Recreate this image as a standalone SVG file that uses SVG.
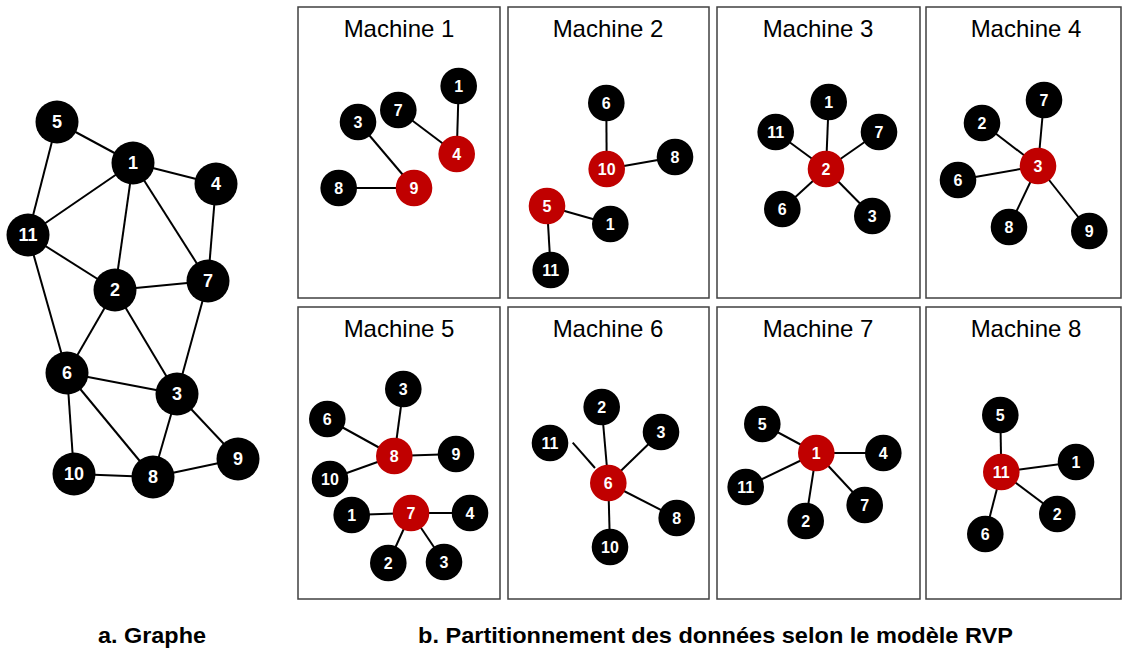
<svg xmlns="http://www.w3.org/2000/svg" width="1123" height="651" viewBox="0 0 1123 651">
<style>
.e{stroke:#000;stroke-width:2;fill:none}
.n{fill:#000}
.r{fill:#C00000}
.big{r:21.5}
.sm{r:18.3}
.t{fill:#fff;font-family:"Liberation Sans",Arial,sans-serif;font-weight:bold;text-anchor:middle;dominant-baseline:central}
.tl{font-size:18px}
.ts{font-size:16px}
.panel{fill:#fff;stroke:#404040;stroke-width:1.5}
.title{font-family:"Liberation Sans",Arial,sans-serif;font-size:24px;text-anchor:middle;fill:#000}
.cap{font-family:"Liberation Sans",Arial,sans-serif;font-size:22px;font-weight:bold;fill:#000}
</style>
<rect width="1123" height="651" fill="#fff"/>

<g id="panels">
<rect class="panel" x="298" y="7" width="202" height="291"/>
<rect class="panel" x="508" y="7" width="201" height="291"/>
<rect class="panel" x="717" y="7" width="203" height="291"/>
<rect class="panel" x="926" y="7" width="195" height="291"/>
<rect class="panel" x="298" y="307" width="202" height="292"/>
<rect class="panel" x="508" y="307" width="201" height="292"/>
<rect class="panel" x="717" y="307" width="203" height="292"/>
<rect class="panel" x="926" y="307" width="195" height="292"/>
<text class="title" x="399" y="37">Machine 1</text>
<text class="title" x="608" y="37">Machine 2</text>
<text class="title" x="818" y="37">Machine 3</text>
<text class="title" x="1026" y="37">Machine 4</text>
<text class="title" x="399" y="337">Machine 5</text>
<text class="title" x="608" y="337">Machine 6</text>
<text class="title" x="818" y="337">Machine 7</text>
<text class="title" x="1026" y="337">Machine 8</text>
</g>

<g id="connectors">
<!-- graph a -->
<line class="e" x1="57" y1="122" x2="133" y2="163"/>
<line class="e" x1="57" y1="122" x2="28" y2="235"/>
<line class="e" x1="133" y1="163" x2="216" y2="184"/>
<line class="e" x1="133" y1="163" x2="28" y2="235"/>
<line class="e" x1="133" y1="163" x2="115" y2="290"/>
<line class="e" x1="133" y1="163" x2="208" y2="281"/>
<line class="e" x1="216" y1="184" x2="208" y2="281"/>
<line class="e" x1="28" y1="235" x2="115" y2="290"/>
<line class="e" x1="28" y1="235" x2="67" y2="373"/>
<line class="e" x1="115" y1="290" x2="208" y2="281"/>
<line class="e" x1="115" y1="290" x2="67" y2="373"/>
<line class="e" x1="115" y1="290" x2="177" y2="394"/>
<line class="e" x1="208" y1="281" x2="177" y2="394"/>
<line class="e" x1="67" y1="373" x2="177" y2="394"/>
<line class="e" x1="67" y1="373" x2="74" y2="474"/>
<line class="e" x1="67" y1="373" x2="153" y2="477"/>
<line class="e" x1="177" y1="394" x2="153" y2="477"/>
<line class="e" x1="177" y1="394" x2="238" y2="459"/>
<line class="e" x1="74" y1="474" x2="153" y2="477"/>
<line class="e" x1="153" y1="477" x2="238" y2="459"/>
<!-- machine 1 -->
<line class="e" x1="458.7" y1="86" x2="456.7" y2="154"/>
<line class="e" x1="398.3" y1="110" x2="456.7" y2="154"/>
<line class="e" x1="358" y1="122" x2="414" y2="188"/>
<line class="e" x1="338.7" y1="188" x2="414" y2="188"/>
<!-- machine 2 -->
<line class="e" x1="606.3" y1="103" x2="606.7" y2="169"/>
<line class="e" x1="675" y1="157" x2="606.7" y2="169"/>
<line class="e" x1="547" y1="206" x2="610.3" y2="224"/>
<line class="e" x1="547" y1="206" x2="550.7" y2="270"/>
<!-- machine 3 -->
<line class="e" x1="826" y1="169" x2="828.7" y2="102"/>
<line class="e" x1="826" y1="169" x2="775.7" y2="132"/>
<line class="e" x1="826" y1="169" x2="879" y2="132"/>
<line class="e" x1="826" y1="169" x2="782.3" y2="209"/>
<line class="e" x1="826" y1="169" x2="872.3" y2="216"/>
<!-- machine 4 -->
<line class="e" x1="1038" y1="166" x2="1044" y2="100"/>
<line class="e" x1="1038" y1="166" x2="982" y2="123"/>
<line class="e" x1="1038" y1="166" x2="958" y2="180"/>
<line class="e" x1="1038" y1="166" x2="1009" y2="227"/>
<line class="e" x1="1038" y1="166" x2="1089.3" y2="231"/>
<!-- machine 5 -->
<line class="e" x1="394.3" y1="456" x2="403.3" y2="389"/>
<line class="e" x1="394.3" y1="456" x2="327.3" y2="419"/>
<line class="e" x1="394.3" y1="456" x2="456" y2="454"/>
<line class="e" x1="394.3" y1="456" x2="330" y2="479"/>
<line class="e" x1="411" y1="513" x2="351.7" y2="515"/>
<line class="e" x1="411" y1="513" x2="470" y2="513"/>
<line class="e" x1="411" y1="513" x2="388.3" y2="563"/>
<line class="e" x1="411" y1="513" x2="444" y2="562"/>
<!-- machine 6 -->
<line class="e" x1="608.3" y1="483" x2="601.7" y2="407"/>
<line class="e" x1="608.3" y1="483" x2="661" y2="432"/>
<line class="e" x1="595" y1="468" x2="572.7" y2="442.7"/>
<line class="e" x1="608.3" y1="483" x2="676.7" y2="518"/>
<line class="e" x1="608.3" y1="483" x2="610" y2="547"/>
<!-- machine 7 -->
<line class="e" x1="816.3" y1="453" x2="762.3" y2="424"/>
<line class="e" x1="816.3" y1="453" x2="883.3" y2="453"/>
<line class="e" x1="816.3" y1="453" x2="745.7" y2="487"/>
<line class="e" x1="816.3" y1="453" x2="864.7" y2="505"/>
<line class="e" x1="816.3" y1="453" x2="805.7" y2="521"/>
<!-- machine 8 -->
<line class="e" x1="1001.3" y1="472" x2="1000.3" y2="415"/>
<line class="e" x1="1001.3" y1="472" x2="1076" y2="462"/>
<line class="e" x1="1001.3" y1="472" x2="1057.3" y2="514"/>
<line class="e" x1="1001.3" y1="472" x2="985.3" y2="534"/>
</g>

<g id="graph-a">
<g id="a-n5"><circle class="n big" cx="57" cy="122"/><text class="t tl" x="57" y="122">5</text></g>
<g id="a-n1"><circle class="n big" cx="133" cy="163"/><text class="t tl" x="133" y="163">1</text></g>
<g id="a-n4"><circle class="n big" cx="216" cy="184"/><text class="t tl" x="216" y="184">4</text></g>
<g id="a-n11"><circle class="n big" cx="28" cy="235"/><text class="t tl" x="28" y="235">11</text></g>
<g id="a-n2"><circle class="n big" cx="115" cy="290"/><text class="t tl" x="115" y="290">2</text></g>
<g id="a-n7"><circle class="n big" cx="208" cy="281"/><text class="t tl" x="208" y="281">7</text></g>
<g id="a-n6"><circle class="n big" cx="67" cy="373"/><text class="t tl" x="67" y="373">6</text></g>
<g id="a-n3"><circle class="n big" cx="177" cy="394"/><text class="t tl" x="177" y="394">3</text></g>
<g id="a-n9"><circle class="n big" cx="238" cy="459"/><text class="t tl" x="238" y="459">9</text></g>
<g id="a-n10"><circle class="n big" cx="74" cy="474"/><text class="t tl" x="74" y="474">10</text></g>
<g id="a-n8"><circle class="n big" cx="153" cy="477"/><text class="t tl" x="153" y="477">8</text></g>
</g>

<g id="m1">
<g id="m1-n1"><circle class="n sm" cx="458.7" cy="86"/><text class="t ts" x="458.7" y="86">1</text></g>
<g id="m1-n7"><circle class="n sm" cx="398.3" cy="110"/><text class="t ts" x="398.3" y="110">7</text></g>
<g id="m1-n3"><circle class="n sm" cx="358" cy="122"/><text class="t ts" x="358" y="122">3</text></g>
<g id="m1-n4"><circle class="r sm" cx="456.7" cy="154"/><text class="t ts" x="456.7" y="154">4</text></g>
<g id="m1-n8"><circle class="n sm" cx="338.7" cy="188"/><text class="t ts" x="338.7" y="188">8</text></g>
<g id="m1-n9"><circle class="r sm" cx="414" cy="188"/><text class="t ts" x="414" y="188">9</text></g>
</g>

<g id="m2">
<g id="m2-n6"><circle class="n sm" cx="606.3" cy="103"/><text class="t ts" x="606.3" y="103">6</text></g>
<g id="m2-n10"><circle class="r sm" cx="606.7" cy="169"/><text class="t ts" x="606.7" y="169">10</text></g>
<g id="m2-n8"><circle class="n sm" cx="675" cy="157"/><text class="t ts" x="675" y="157">8</text></g>
<g id="m2-n5"><circle class="r sm" cx="547" cy="206"/><text class="t ts" x="547" y="206">5</text></g>
<g id="m2-n1"><circle class="n sm" cx="610.3" cy="224"/><text class="t ts" x="610.3" y="224">1</text></g>
<g id="m2-n11"><circle class="n sm" cx="550.7" cy="270"/><text class="t ts" x="550.7" y="270">11</text></g>
</g>

<g id="m3">
<g id="m3-n1"><circle class="n sm" cx="828.7" cy="102"/><text class="t ts" x="828.7" y="102">1</text></g>
<g id="m3-n11"><circle class="n sm" cx="775.7" cy="132"/><text class="t ts" x="775.7" y="132">11</text></g>
<g id="m3-n7"><circle class="n sm" cx="879" cy="132"/><text class="t ts" x="879" y="132">7</text></g>
<g id="m3-n2"><circle class="r sm" cx="826" cy="169"/><text class="t ts" x="826" y="169">2</text></g>
<g id="m3-n6"><circle class="n sm" cx="782.3" cy="209"/><text class="t ts" x="782.3" y="209">6</text></g>
<g id="m3-n3"><circle class="n sm" cx="872.3" cy="216"/><text class="t ts" x="872.3" y="216">3</text></g>
</g>

<g id="m4">
<g id="m4-n7"><circle class="n sm" cx="1044" cy="100"/><text class="t ts" x="1044" y="100">7</text></g>
<g id="m4-n2"><circle class="n sm" cx="982" cy="123"/><text class="t ts" x="982" y="123">2</text></g>
<g id="m4-n3"><circle class="r sm" cx="1038" cy="166"/><text class="t ts" x="1038" y="166">3</text></g>
<g id="m4-n6"><circle class="n sm" cx="958" cy="180"/><text class="t ts" x="958" y="180">6</text></g>
<g id="m4-n8"><circle class="n sm" cx="1009" cy="227"/><text class="t ts" x="1009" y="227">8</text></g>
<g id="m4-n9"><circle class="n sm" cx="1089.3" cy="231"/><text class="t ts" x="1089.3" y="231">9</text></g>
</g>

<g id="m5">
<g id="m5-n3a"><circle class="n sm" cx="403.3" cy="389"/><text class="t ts" x="403.3" y="389">3</text></g>
<g id="m5-n6"><circle class="n sm" cx="327.3" cy="419"/><text class="t ts" x="327.3" y="419">6</text></g>
<g id="m5-n8"><circle class="r sm" cx="394.3" cy="456"/><text class="t ts" x="394.3" y="456">8</text></g>
<g id="m5-n9"><circle class="n sm" cx="456" cy="454"/><text class="t ts" x="456" y="454">9</text></g>
<g id="m5-n10"><circle class="n sm" cx="330" cy="479"/><text class="t ts" x="330" y="479">10</text></g>
<g id="m5-n1"><circle class="n sm" cx="351.7" cy="515"/><text class="t ts" x="351.7" y="515">1</text></g>
<g id="m5-n7"><circle class="r sm" cx="411" cy="513"/><text class="t ts" x="411" y="513">7</text></g>
<g id="m5-n4"><circle class="n sm" cx="470" cy="513"/><text class="t ts" x="470" y="513">4</text></g>
<g id="m5-n2"><circle class="n sm" cx="388.3" cy="563"/><text class="t ts" x="388.3" y="563">2</text></g>
<g id="m5-n3b"><circle class="n sm" cx="444" cy="562"/><text class="t ts" x="444" y="562">3</text></g>
</g>

<g id="m6">
<g id="m6-n2"><circle class="n sm" cx="601.7" cy="407"/><text class="t ts" x="601.7" y="407">2</text></g>
<g id="m6-n3"><circle class="n sm" cx="661" cy="432"/><text class="t ts" x="661" y="432">3</text></g>
<g id="m6-n11"><circle class="n sm" cx="550" cy="443"/><text class="t ts" x="550" y="443">11</text></g>
<g id="m6-n6"><circle class="r sm" cx="608.3" cy="483"/><text class="t ts" x="608.3" y="483">6</text></g>
<g id="m6-n8"><circle class="n sm" cx="676.7" cy="518"/><text class="t ts" x="676.7" y="518">8</text></g>
<g id="m6-n10"><circle class="n sm" cx="610" cy="547"/><text class="t ts" x="610" y="547">10</text></g>
</g>

<g id="m7">
<g id="m7-n5"><circle class="n sm" cx="762.3" cy="424"/><text class="t ts" x="762.3" y="424">5</text></g>
<g id="m7-n1"><circle class="r sm" cx="816.3" cy="453"/><text class="t ts" x="816.3" y="453">1</text></g>
<g id="m7-n4"><circle class="n sm" cx="883.3" cy="453"/><text class="t ts" x="883.3" y="453">4</text></g>
<g id="m7-n11"><circle class="n sm" cx="745.7" cy="487"/><text class="t ts" x="745.7" y="487">11</text></g>
<g id="m7-n7"><circle class="n sm" cx="864.7" cy="505"/><text class="t ts" x="864.7" y="505">7</text></g>
<g id="m7-n2"><circle class="n sm" cx="805.7" cy="521"/><text class="t ts" x="805.7" y="521">2</text></g>
</g>

<g id="m8">
<g id="m8-n5"><circle class="n sm" cx="1000.3" cy="415"/><text class="t ts" x="1000.3" y="415">5</text></g>
<g id="m8-n11"><circle class="r sm" cx="1001.3" cy="472"/><text class="t ts" x="1001.3" y="472">11</text></g>
<g id="m8-n1"><circle class="n sm" cx="1076" cy="462"/><text class="t ts" x="1076" y="462">1</text></g>
<g id="m8-n2"><circle class="n sm" cx="1057.3" cy="514"/><text class="t ts" x="1057.3" y="514">2</text></g>
<g id="m8-n6"><circle class="n sm" cx="985.3" cy="534"/><text class="t ts" x="985.3" y="534">6</text></g>
</g>

<g id="captions">
<text class="cap" x="98" y="643" textLength="108" lengthAdjust="spacingAndGlyphs">a. Graphe</text>
<text class="cap" x="418" y="643" textLength="595" lengthAdjust="spacingAndGlyphs">b. Partitionnement des données selon le modèle RVP</text>
</g>
</svg>
